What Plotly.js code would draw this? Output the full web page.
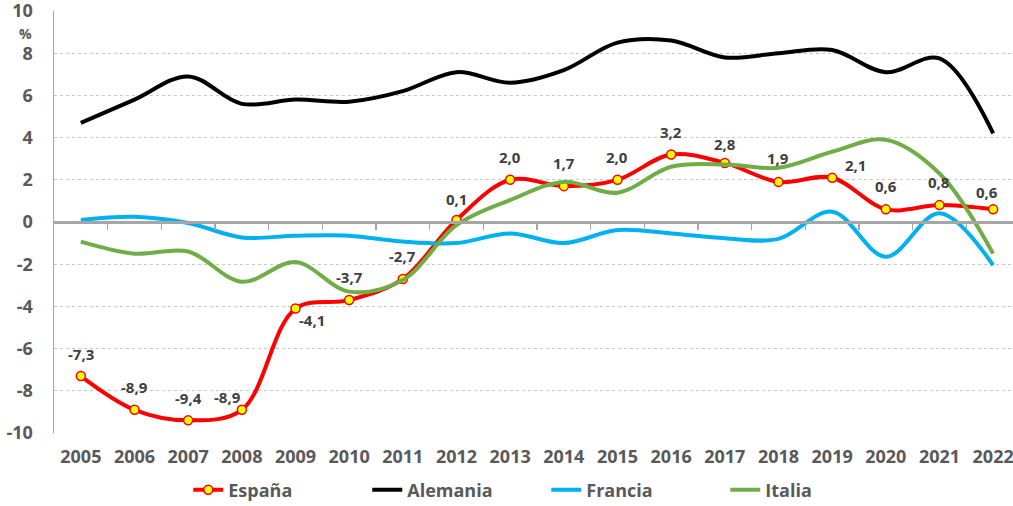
<!DOCTYPE html>
<html>
<head>
<meta charset="utf-8">
<script src="https://cdn.plot.ly/plotly-3.0.1.min.js"></script>
<style>html,body{margin:0;padding:0;background:#fff;}#chart{width:1013px;height:506px;}</style>
</head>
<body>
<div id="chart"></div>
<script>
const years = ['2005','2006','2007','2008','2009','2010','2011','2012','2013','2014','2015','2016','2017','2018','2019','2020','2021','2022'];
const espana   = [-7.3,-8.9,-9.4,-8.9,-4.1,-3.7,-2.7,0.1,2.0,1.7,2.0,3.2,2.8,1.9,2.1,0.6,0.8,0.6];
const alemania = [4.7,5.8,6.9,5.6,5.8,5.7,6.2,7.1,6.6,7.2,8.5,8.6,7.8,8.0,8.15,7.1,7.75,4.2];
const francia  = [0.1,0.25,-0.05,-0.73,-0.65,-0.65,-0.93,-1.0,-0.54,-1.0,-0.38,-0.54,-0.77,-0.8,0.49,-1.65,0.42,-2.05];
const italia   = [-0.93,-1.5,-1.4,-2.83,-1.9,-3.3,-2.75,-0.15,1.04,1.9,1.39,2.62,2.73,2.57,3.33,3.9,2.3,-1.5];
const seriesNames = ['España','Alemania','Francia','Italia'];
const yTicks = [-10,-8,-6,-4,-2,0,2,4,6,8,10];

// label placement offsets (px) for España data labels
const labelShiftX = [0,0,0,-14,17,0,0,0,0,0,0,0,0,0,23,0,0,-6];
const labelShiftY = [22,23,22,13,-11,23,23,21,23,23,23,22,19,24,13,23,23,17];

const idx = years.map((_, i) => i);
const axisGrey = '#a6a6a6';
const textGrey = '#595959';
const fontFam = '"Open Sans", "DejaVu Sans", sans-serif';

const traces = [
  {x: idx, y: espana, name: seriesNames[0], type: 'scatter', mode: 'lines+markers',
   line: {color: '#ff0000', width: 4, shape: 'spline', smoothing: 1},
   marker: {size: 9, color: '#ffff00', line: {color: '#ff0000', width: 1.5}}},
  {x: idx, y: alemania, name: seriesNames[1], type: 'scatter', mode: 'lines',
   line: {color: '#000000', width: 4, shape: 'spline', smoothing: 1}},
  {x: idx, y: francia, name: seriesNames[2], type: 'scatter', mode: 'lines',
   line: {color: '#00b0f0', width: 4, shape: 'spline', smoothing: 1}},
  {x: idx, y: italia, name: seriesNames[3], type: 'scatter', mode: 'lines',
   line: {color: '#70ad47', width: 4, shape: 'spline', smoothing: 1}},
  {x: [0], y: [0], xaxis: 'x2', type: 'scatter', mode: 'markers', marker: {opacity: 0}, showlegend: false, hoverinfo: 'skip'}
];

const annotations = espana.map((v, i) => ({
  x: i, y: v, xref: 'x', yref: 'y',
  text: v.toFixed(1).replace('.', ','),
  showarrow: false, xshift: labelShiftX[i], yshift: labelShiftY[i],
  font: {family: fontFam, size: 15, color: '#404040', weight: 'bold'}
}));
annotations.push({
  xref: 'paper', yref: 'paper', x: -0.030, y: 0.947, xanchor: 'center', yanchor: 'middle',
  text: '%', showarrow: false, borderpad: 0,
  font: {family: fontFam, size: 14, color: textGrey, weight: 'bold'}
});

const xRange = [-0.5, 17.37];
const boundaries = years.map((_, i) => i + 0.5);

const layout = {
  width: 1013, height: 506,
  margin: {l: 54, r: 0, t: 11, b: 73, pad: 0, autoexpand: false},
  paper_bgcolor: '#ffffff', plot_bgcolor: '#ffffff',
  showlegend: true,
  xaxis: {
    range: xRange, tickmode: 'array', tickvals: idx, ticktext: years,
    showgrid: false, zeroline: false, showline: false, ticks: '',
    tickfont: {family: fontFam, size: 18, color: textGrey, weight: 'bold'},
    ticklabelstandoff: 11, ticklabeloverflow: 'allow', automargin: false
  },
  xaxis2: {
    overlaying: 'x', anchor: 'free', position: 0.5, range: xRange,
    tickmode: 'array', tickvals: boundaries, showticklabels: false,
    showgrid: false, zeroline: false, showline: true, linecolor: axisGrey, linewidth: 2.5,
    ticks: 'outside', ticklen: 6, tickwidth: 1.5, tickcolor: axisGrey
  },
  yaxis: {
    range: [-10, 10], tickmode: 'array', tickvals: yTicks, ticktext: yTicks.map(String),
    showgrid: true, gridcolor: '#c8c8c8', griddash: 'dot', gridwidth: 1,
    zeroline: false, showline: true, linecolor: axisGrey, linewidth: 1.5,
    ticks: '', ticklabelstandoff: 16, ticklabeloverflow: 'allow', automargin: false,
    tickfont: {family: fontFam, size: 18, color: textGrey, weight: 'bold'}
  },
  legend: {
    orientation: 'h', x: 0.14, y: -0.135, xanchor: 'left', yanchor: 'middle',
    entrywidth: 134, entrywidthmode: 'pixels',
    font: {family: fontFam, size: 18, color: textGrey, weight: 'bold'},
    bgcolor: 'rgba(0,0,0,0)', itemclick: false
  },
  annotations: annotations
};

Plotly.newPlot('chart', traces, layout, {staticPlot: true, displayModeBar: false});
</script>
</body>
</html>
